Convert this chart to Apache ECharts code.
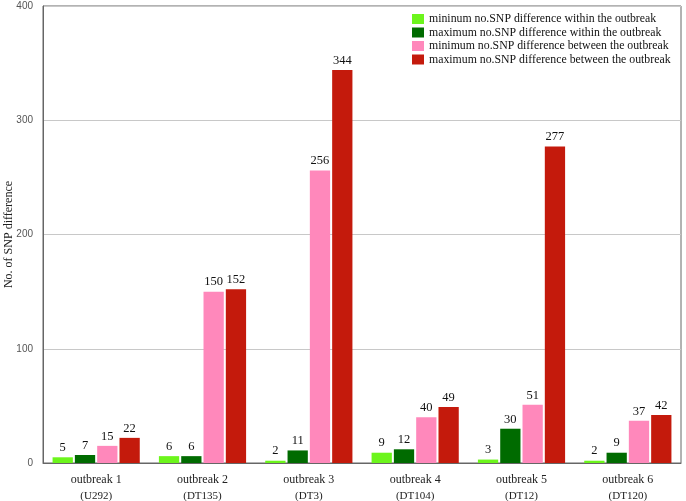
<!DOCTYPE html>
<html><head><meta charset="utf-8">
<script src="https://cdn.jsdelivr.net/npm/echarts@6/dist/echarts.min.js"></script>
<style>html,body{margin:0;padding:0;background:#fff}#c{width:686px;height:501px}</style>
</head><body><div id="c"></div>
<script>
var categories = ['outbreak 1', 'outbreak 2', 'outbreak 3', 'outbreak 4', 'outbreak 5', 'outbreak 6'];
var subLabels = ['(U292)', '(DT135)', '(DT3)', '(DT104)', '(DT12)', '(DT120)'];
var seriesNames = [
  'mininum no.SNP difference within the outbreak',
  'maximum no.SNP difference within the outbreak',
  'minimum no.SNP difference between the outbreak',
  'maximum no.SNP difference between the outbreak'
];
var minWithin = [5, 6, 2, 9, 3, 2];
var maxWithin = [7, 6, 11, 12, 30, 9];
var minBetween = [15, 150, 256, 40, 51, 37];
var maxBetween = [22, 152, 344, 49, 277, 42];
var yTicks = [0, 100, 200, 300, 400];
var colors = ['#6cf51c', '#006b00', '#ff88bb', '#c41a0c'];

var serif = '"Liberation Serif", "DejaVu Serif", serif';
var dataSets = [minWithin, maxWithin, minBetween, maxBetween];
var chart = echarts.init(document.getElementById('c'));
chart.setOption({
  animation: false,
  grid: {left: 43, right: 5, top: 6, bottom: 38, show: true, borderColor: '#666', borderWidth: 1, backgroundColor: '#fff', outerBoundsMode: 'none', containLabel: false},
  legend: {
    left: 407, top: 8, orient: 'vertical', itemWidth: 12, itemHeight: 10, itemGap: 1.5,
    textStyle: {fontFamily: serif, fontSize: 11.8, color: '#111'},
    icon: 'rect',
    data: seriesNames
  },
  xAxis: {
    type: 'category', data: categories,
    axisTick: {show: false},
    axisLine: {lineStyle: {color: '#666'}},
    axisLabel: {
      interval: 0, margin: 8,
      formatter: function (v, i) { return '{a|' + v + '}\n{b|' + subLabels[i] + '}'; },
      rich: {
        a: {fontFamily: serif, fontSize: 12, color: '#222', lineHeight: 17},
        b: {fontFamily: serif, fontSize: 11, color: '#222', lineHeight: 17}
      }
    }
  },
  yAxis: {
    type: 'value', min: yTicks[0], max: yTicks[yTicks.length - 1], interval: 100,
    name: 'No. of SNP difference', nameLocation: 'middle', nameGap: 28, nameMoveOverlap: false,
    nameTextStyle: {fontFamily: serif, fontSize: 12, color: '#222'},
    axisLine: {show: true, lineStyle: {color: '#666'}},
    axisTick: {show: false},
    axisLabel: {fontFamily: '"Liberation Sans", Arial, sans-serif', fontSize: 10, color: '#555', margin: 10},
    splitLine: {lineStyle: {color: '#c8c8c8'}}
  },
  series: dataSets.map(function (d, k) {
    return {
      name: seriesNames[k], type: 'bar', data: d,
      barGap: '10%', barCategoryGap: '18%',
      itemStyle: {color: colors[k]},
      label: {show: true, position: 'top', distance: 3, fontFamily: serif, fontSize: 12.5, color: '#111'}
    };
  })
});
</script></body></html>
